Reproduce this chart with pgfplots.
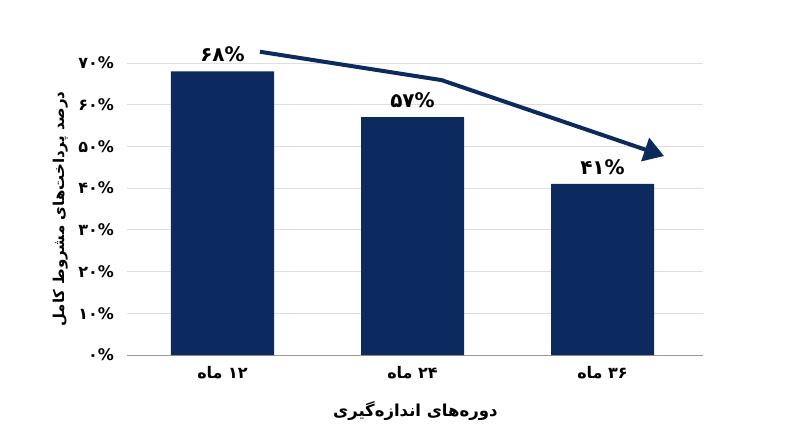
\documentclass[border=0pt]{standalone}
\usepackage{pgfplots}
\pgfplotsset{compat=1.18}
\usepackage{fontspec}
\usetikzlibrary{arrows.meta}
\TeXXeTstate=1
\newfontfamily\arabicfont[Script=Arabic]{DejaVu Sans}
\definecolor{barblue}{RGB}{12,42,94}
\definecolor{gridgray}{RGB}{222,222,222}
\begin{document}
\begin{tikzpicture}
\begin{axis}[
    name=ax,
    scale only axis,
    width=575.7pt, height=292pt,
    xmin=-0.5, xmax=2.53,
    ymin=0, ymax=70,
    clip=false,
    axis y line*=left,
    y axis line style={draw=none},
    axis x line*=bottom,
    x axis line style={draw=gray!80, line width=0.8pt, -},
    ymajorgrids,
    grid style={gridgray, line width=0.8pt},
    major tick length=0pt,
    xtick={0,1,2},
    xticklabels={{\beginR ۱۲ ماه\endR},{\beginR ۲۴ ماه\endR},{\beginR ۳۶ ماه\endR}},
    xticklabel style={font=\arabicfont\bfseries\fontsize{16}{18}\selectfont, yshift=-8pt},
    ytick={0,10,20,30,40,50,60,70},
    yticklabels={۰\%,۱۰\%,۲۰\%,۳۰\%,۴۰\%,۵۰\%,۶۰\%,۷۰\%},
    yticklabel style={font=\arabicfont\bfseries\fontsize{16}{18}\selectfont, anchor=east, xshift=-10pt},
    xlabel={\beginR دوره‌های اندازه‌گیری\endR},
    xlabel style={font=\arabicfont\bfseries\fontsize{16.5}{19}\selectfont, at={(axis description cs:0.5,-0.192)}, anchor=center},
    ylabel={\beginR درصد پرداخت‌های مشروط کامل\endR},
    ylabel style={font=\arabicfont\bfseries\fontsize{15}{17}\selectfont, at={(axis description cs:-0.117,0.5)}, anchor=center},
]
\addplot[ybar, bar width=103pt, fill=barblue, draw=none,
    point meta=explicit symbolic,
    nodes near coords,
    nodes near coords style={font=\arabicfont\bfseries\fontsize{20}{22}\selectfont, text=black, anchor=south, yshift=6pt}]
    coordinates {(0,68) [۶۸\%] (1,57) [۵۷\%] (2,41) [۴۱\%]};
\addplot[barblue, line width=4pt, -{Triangle[length=20pt,width=24pt]}]
    coordinates {(0.197,72.7) (1.153,65.9) (2.324,47.7)};
\end{axis}
\path[use as bounding box] ([xshift=-127.5pt,yshift=-92pt]ax.south west) rectangle ++(800pt,447pt);
\end{tikzpicture}
\end{document}
